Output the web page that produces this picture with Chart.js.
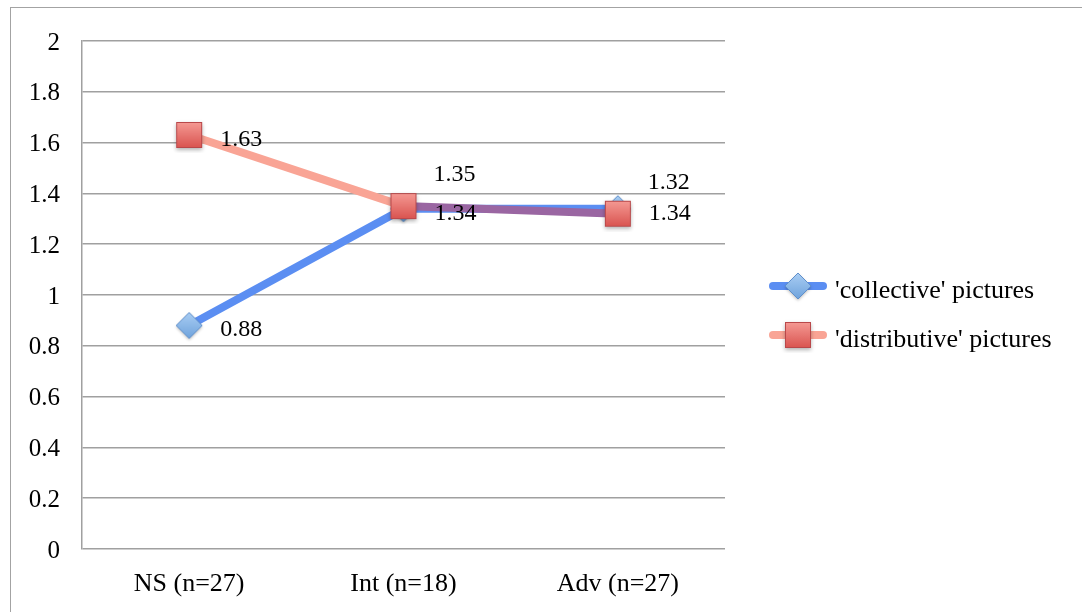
<!DOCTYPE html>
<html>
<head>
<meta charset="utf-8">
<title>Collective vs distributive pictures</title>
<script src="https://cdn.jsdelivr.net/npm/chart.js@4/dist/chart.umd.min.js"></script>
<style>
  html, body { margin: 0; padding: 0; background: #fff; overflow: hidden; }
  #wrap { position: relative; width: 1082px; height: 612px; }
  #frame { position: absolute; left: 10px; top: 7px; width: 2000px; height: 2000px;
           border-left: 1px solid #a3a3a3; border-top: 1px solid #a3a3a3; box-sizing: border-box; }
  #chart { position: absolute; left: 0; top: 0; }
</style>
</head>
<body>
<div id="wrap">
  <div id="frame"></div>
  <canvas id="chart" width="1082" height="612"></canvas>
</div>
<script>
// Groups and mean scores
const categories = ['NS (n=27)', 'Int (n=18)', 'Adv (n=27)'];
const collectiveValues = [0.88, 1.34, 1.34];
const distributiveValues = [1.63, 1.35, 1.32];
const seriesNames = ["'collective' pictures", "'distributive' pictures"];
const yTicks = [0, 0.2, 0.4, 0.6, 0.8, 1, 1.2, 1.4, 1.6, 1.8, 2];

// Where each value label sits relative to its point
const collectiveLabelPlace = ['right', 'right', 'right'];
const distributiveLabelPlace = ['right', 'above', 'above'];

const FONT = "'Liberation Serif', 'Times New Roman', serif";
const BLUE = '#5b8ef2';
const SALMON = '#f9a495';
const OVERLAP = '#9a66a2';
const GRID = '#a0a0a0';

// Marker glyphs: small bevelled shapes with a soft drop shadow
function diamondMarker() {
  const r = 13, pad = 5, s = 2 * (r + pad);
  const c = document.createElement('canvas');
  c.width = s; c.height = s;
  const g = c.getContext('2d');
  const cx = s / 2, cy = s / 2;
  g.shadowColor = 'rgba(0,0,0,0.28)';
  g.shadowBlur = 3;
  g.shadowOffsetY = 1.5;
  const grd = g.createLinearGradient(0, cy - r, 0, cy + r);
  grd.addColorStop(0, '#a9cdf3');
  grd.addColorStop(1, '#6fa3dc');
  g.beginPath();
  g.moveTo(cx, cy - r); g.lineTo(cx + r, cy); g.lineTo(cx, cy + r); g.lineTo(cx - r, cy);
  g.closePath();
  g.fillStyle = grd;
  g.fill();
  g.shadowColor = 'transparent';
  g.strokeStyle = '#5f8fcb';
  g.lineWidth = 1;
  g.stroke();
  return c;
}

function squareMarker() {
  const h = 13, pad = 5, s = 2 * (h + pad);
  const c = document.createElement('canvas');
  c.width = s; c.height = s;
  const g = c.getContext('2d');
  const x0 = s / 2 - h, y0 = s / 2 - h;
  g.shadowColor = 'rgba(0,0,0,0.3)';
  g.shadowBlur = 4;
  g.shadowOffsetY = 2;
  const grd = g.createLinearGradient(0, y0, 0, y0 + 2 * h);
  grd.addColorStop(0, '#f59a94');
  grd.addColorStop(1, '#d9534f');
  g.fillStyle = grd;
  g.fillRect(x0, y0, 2 * h, 2 * h);
  g.shadowColor = 'transparent';
  g.strokeStyle = '#b9484a';
  g.lineWidth = 1;
  g.strokeRect(x0 + 0.5, y0 + 0.5, 2 * h - 1, 2 * h - 1);
  return c;
}

const diamondImg = diamondMarker();
const squareImg = squareMarker();

// Where the two lines run on top of each other, the upper one shows the blended tone
function overlapColor(ctx) {
  const i = ctx.p0DataIndex, j = ctx.p1DataIndex;
  const close = k => Math.abs(distributiveValues[k] - collectiveValues[k]) < 0.05;
  return close(i) && close(j) ? OVERLAP : undefined;
}

const valueLabels = {
  id: 'valueLabels',
  afterDatasetsDraw(chart) {
    const ctx = chart.ctx;
    ctx.save();
    ctx.font = '24px ' + FONT;
    ctx.fillStyle = '#000';
    ctx.textAlign = 'left';
    ctx.textBaseline = 'alphabetic';
    chart.data.datasets.forEach((ds, di) => {
      const meta = chart.getDatasetMeta(di);
      meta.data.forEach((pt, i) => {
        const txt = ds.data[i].toFixed(2);
        if (ds.labelPlace[i] === 'above') {
          ctx.fillText(txt, pt.x + 30, pt.y - 25);
        } else {
          ctx.fillText(txt, pt.x + 31, pt.y + 11);
        }
      });
    });
    ctx.restore();
  }
};

const sideLegend = {
  id: 'sideLegend',
  afterDraw(chart) {
    const ctx = chart.ctx;
    const area = chart.chartArea;
    const x0 = area.right + 44, x1 = x0 + 58;
    ctx.save();
    chart.data.datasets.forEach((ds, i) => {
      const y = 286 + i * 49;
      ctx.strokeStyle = ds.borderColor;
      ctx.lineWidth = 8;
      ctx.lineCap = 'round';
      ctx.beginPath();
      ctx.moveTo(x0 + 4, y);
      ctx.lineTo(x1 - 4, y);
      ctx.stroke();
      const img = ds.pointStyle;
      ctx.drawImage(img, (x0 + x1) / 2 - img.width / 2, y - img.height / 2);
      ctx.font = '26px ' + FONT;
      ctx.fillStyle = '#000';
      ctx.textAlign = 'left';
      ctx.textBaseline = 'alphabetic';
      ctx.fillText(ds.label, x1 + 8, y + 12);
    });
    ctx.restore();
  }
};

Chart.defaults.font.family = FONT;
Chart.defaults.font.size = 24;
Chart.defaults.color = '#000';

new Chart(document.getElementById('chart'), {
  type: 'line',
  data: {
    labels: categories,
    datasets: [
      {
        label: seriesNames[0],
        data: collectiveValues,
        labelPlace: collectiveLabelPlace,
        borderColor: BLUE,
        borderWidth: 8,
        borderCapStyle: 'round',
        pointStyle: diamondImg,
        pointRadius: 13,
        tension: 0,
        order: 1
      },
      {
        label: seriesNames[1],
        data: distributiveValues,
        labelPlace: distributiveLabelPlace,
        borderColor: SALMON,
        borderWidth: 8,
        borderCapStyle: 'round',
        pointStyle: squareImg,
        pointRadius: 13,
        tension: 0,
        order: 0,
        segment: { borderColor: overlapColor }
      }
    ]
  },
  options: {
    responsive: false,
    devicePixelRatio: 1,
    animation: false,
    events: [],
    layout: { padding: { left: 0, top: 41, right: 357, bottom: 0 } },
    plugins: { legend: { display: false }, tooltip: { enabled: false } },
    scales: {
      x: {
        type: 'category',
        offset: true,
        grid: { display: false },
        border: { display: false },
        ticks: { padding: 12, font: { family: FONT, size: 26 } },
        afterFit(scale) { scale.height = 63; }
      },
      y: {
        min: 0,
        max: 2,
        afterBuildTicks(scale) { scale.ticks = yTicks.map(v => ({ value: v })); },
        grid: { color: GRID, lineWidth: 1.5, drawTicks: false },
        border: { display: true, color: GRID, width: 1.5 },
        ticks: {
          padding: 22,
          labelOffset: 2,
          font: { family: FONT, size: 25 },
          callback: v => String(v)
        },
        afterFit(scale) { scale.width = 82; }
      }
    }
  },
  plugins: [valueLabels, sideLegend]
});
</script>
</body>
</html>
